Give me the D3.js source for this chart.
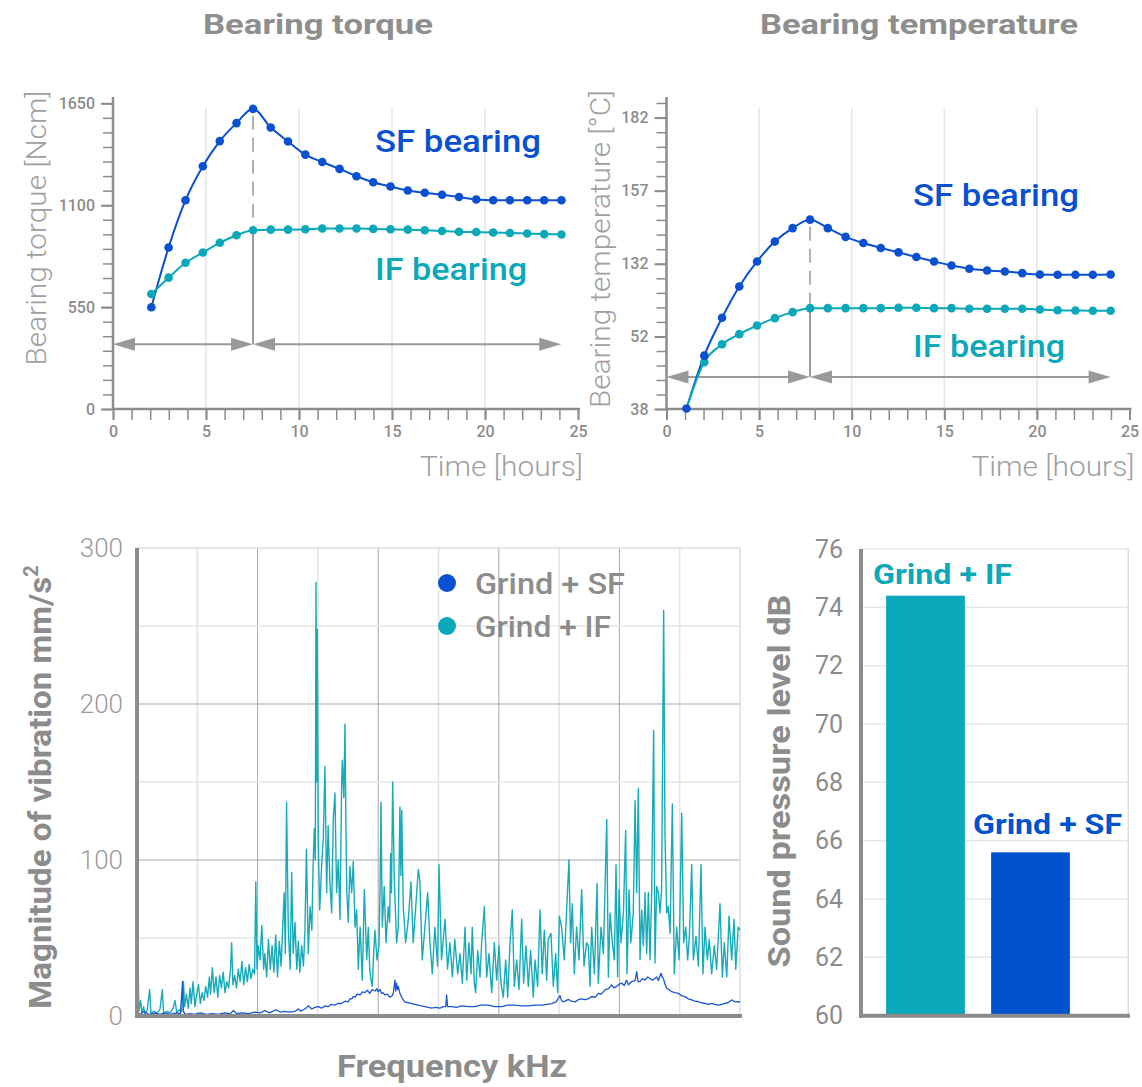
<!DOCTYPE html>
<html><head><meta charset="utf-8">
<script src="https://cdn.jsdelivr.net/npm/d3@7"></script>
<style>body{margin:0;background:#fff}svg{display:block}</style>
</head><body><svg id="c" width="1142" height="1087"></svg>
<script>
// ---------------- DATA ----------------
const torqueTime = [2.06,2.99,3.90,4.83,5.74,6.64,7.53,8.48,9.41,10.34,11.25,12.18,13.09,13.99,14.92,15.85,16.76,17.69,18.60,19.53,20.44,21.34,22.27,23.18,24.11];
const torqueSF = [549,872,1127,1310,1446,1543,1620,1519,1444,1373,1333,1296,1256,1224,1201,1179,1167,1156,1144,1131,1127,1127,1127,1127,1127];
const torqueIF = [621,709,789,845,897,938,965,968,968,970,974,974,974,972,970,968,965,961,957,955,953,950,947,944,942];
const torqueTicks = [0,550,1100,1650];
const timeTicks = [0,5,10,15,20,25];

const tempTime = [1.08,2.04,3.00,3.93,4.89,5.85,6.81,7.75,8.71,9.67,10.63,11.57,12.53,13.49,14.45,15.39,16.35,17.31,18.27,19.21,20.16,21.12,22.08,23.02,23.98];
const tempSF = [38.1,48.3,72.6,107,132.8,139.6,144.2,147.1,144.2,141.2,139.1,137.4,135.9,134.3,132.8,130.2,126.5,124.7,123.6,121.7,120.3,120,120,120,120.2];
const tempIF = [38.1,47.05,50.5,54.6,64.1,72.2,78.8,83.2,83.2,83.2,83.2,83.2,83.6,83.6,83.2,83.2,82.5,82.5,82.5,82.5,81.7,80.9,80.6,80.3,80.3];
const tempTicks = [38,52,132,157,182];

const vibFreqIF = [0.00,0.01,0.03,0.06,0.08,0.11,0.13,0.17,0.21,0.23,0.28,0.33,0.38,0.42,0.44,0.50,0.55,0.60,0.63,0.66,0.70,0.74,0.77,0.79,0.82,0.85,0.88,0.90,0.93,0.96,0.99,1.02,1.05,1.08,1.11,1.14,1.17,1.20,1.22,1.25,1.28,1.31,1.34,1.37,1.40,1.43,1.46,1.49,1.52,1.55,1.57,1.59,1.62,1.65,1.68,1.71,1.74,1.77,1.80,1.83,1.86,1.89,1.92,1.95,1.97,1.99,2.01,2.04,2.07,2.10,2.12,2.15,2.18,2.21,2.24,2.27,2.30,2.33,2.36,2.39,2.42,2.44,2.46,2.48,2.51,2.54,2.565,2.59,2.62,2.65,2.675,2.70,2.73,2.76,2.785,2.81,2.84,2.87,2.90,2.92,2.94,2.957,2.968,2.98,2.99,3.007,3.03,3.06,3.09,3.117,3.145,3.17,3.20,3.228,3.255,3.283,3.31,3.338,3.366,3.394,3.405,3.43,3.438,3.449,3.465,3.48,3.504,3.53,3.56,3.587,3.615,3.643,3.67,3.70,3.736,3.77,3.81,3.836,3.86,3.88,3.902,3.924,3.946,3.98,4.013,4.03,4.046,4.068,4.10,4.13,4.167,4.19,4.206,4.22,4.24,4.267,4.306,4.333,4.36,4.377,4.39,4.416,4.455,4.50,4.543,4.58,4.626,4.665,4.69,4.73,4.775,4.82,4.858,4.897,4.94,4.985,5.008,5.05,5.108,5.15,5.19,5.23,5.27,5.318,5.357,5.395,5.44,5.467,5.506,5.54,5.56,5.594,5.616,5.65,5.688,5.716,5.76,5.799,5.837,5.882,5.926,5.965,6.003,6.036,6.075,6.114,6.147,6.186,6.224,6.257,6.296,6.335,6.379,6.412,6.45,6.49,6.528,6.572,6.60,6.644,6.683,6.72,6.755,6.794,6.82,6.865,6.904,6.943,6.976,7.004,7.042,7.086,7.125,7.164,7.19,7.219,7.252,7.29,7.33,7.374,7.413,7.457,7.485,7.513,7.54,7.585,7.63,7.65,7.695,7.734,7.79,7.817,7.845,7.883,7.916,7.944,7.97,7.994,8.027,8.066,8.104,8.126,8.16,8.19,8.23,8.26,8.287,8.314,8.342,8.37,8.397,8.425,8.452,8.48,8.508,8.535,8.568,8.59,8.618,8.646,8.674,8.70,8.734,8.756,8.784,8.81,8.84,8.878,8.91,8.95,8.99,9.033,9.066,9.10,9.132,9.16,9.199,9.226,9.27,9.31,9.353,9.386,9.42,9.458,9.49,9.53,9.574,9.613,9.668,9.707,9.74,9.78,9.818,9.862,9.90,9.93,9.97,10.0];
const vibIF = [5,62,3,10,2,6,1,4,17,2,3,2,4,17,2,3,2,5,10,2,4,3,22,6,14,5,18,8,22,6,14,20,8,15,10,19,12,25,14,31,15,25,12,26,18,28,15,22,18,30,47,20,26,18,30,22,35,20,31,22,33,24,30,27,86,30,45,36,58,30,40,25,49,30,45,28,52,25,48,32,60,79,40,137,55,30,92,40,60,30,48,28,45,32,55,107,40,70,55,95,120,100,278,150,248,110,68,95,115,160,79,122,85,66,126,143,79,100,62,150,164,140,160,187,120,79,60,96,79,99,57,68,30,57,23,81,36,57,30,23,19,40,55,36,45,80,137,57,83,47,70,60,104,79,150,87,47,57,134,90,132,70,47,62,86,47,72,94,87,36,57,79,47,27,57,32,97,36,62,30,47,25,49,27,40,21,57,23,47,27,57,21,15,42,25,47,70,25,40,15,47,23,45,21,12,36,12,47,68,19,36,17,62,21,45,19,42,12,36,19,68,27,55,23,49,53,19,40,15,64,57,36,68,100,47,72,27,57,36,81,32,47,45,19,57,27,85,21,57,40,126,25,66,47,36,97,25,81,47,66,119,27,81,47,66,138,79,146,36,68,45,79,40,79,36,79,183,34,83,79,66,81,260,117,66,70,53,136,27,57,36,130,47,57,36,51,97,36,51,32,97,27,57,36,49,27,45,30,72,25,47,25,64,36,62,30,57,55];

const vibFreqSF = [0.00,0.05,0.12,0.20,0.30,0.38,0.47,0.55,0.65,0.72,0.755,0.77,0.80,0.88,0.95,1.05,1.15,1.25,1.35,1.45,1.55,1.60,1.65,1.75,1.85,1.95,2.05,2.12,2.20,2.30,2.38,2.45,2.52,2.62,2.675,2.72,2.80,2.84,2.90,2.95,3.007,3.06,3.12,3.17,3.22,3.28,3.33,3.39,3.45,3.50,3.53,3.56,3.59,3.615,3.65,3.70,3.74,3.78,3.82,3.86,3.90,3.946,3.98,4.00,4.03,4.057,4.08,4.11,4.15,4.195,4.23,4.25,4.278,4.29,4.306,4.32,4.333,4.36,4.39,4.42,4.44,4.50,4.554,4.61,4.665,4.72,4.775,4.83,4.886,4.95,5.024,5.08,5.12,5.135,5.15,5.218,5.30,5.384,5.50,5.605,5.70,5.826,5.93,6.047,6.15,6.27,6.38,6.49,6.60,6.71,6.80,6.877,6.95,7.015,7.04,7.07,7.12,7.153,7.20,7.264,7.32,7.374,7.43,7.485,7.54,7.60,7.65,7.70,7.76,7.82,7.87,7.91,7.955,8.00,8.04,8.08,8.12,8.15,8.20,8.26,8.287,8.31,8.34,8.38,8.425,8.47,8.508,8.55,8.59,8.62,8.646,8.69,8.71,8.73,8.76,8.784,8.82,8.867,8.92,8.98,9.03,9.088,9.14,9.2,9.25,9.31,9.36,9.42,9.48,9.53,9.58,9.64,9.70,9.75,9.80,9.86,9.92,9.97,10.0];
const vibSF = [2,1,3,1,2,1,2,1,2,1.5,22,3,1,1.5,1,2,1,1.5,1,2,1.5,3.5,1.5,2,1.5,2.5,2,3.5,2,4,2.5,3,2.5,3,4.5,3,5,6.5,4.5,5.5,6,5,6.5,6,7.5,7,8,8,9.5,9,11,11,12.5,12,14,13.5,15.5,15,16.5,14.5,17,16,17.5,15.5,17,14.5,15,13.5,14,12,13,14.5,23,16,21,17,19,14.5,12,10,9,8.5,8,7.5,7,6.5,6,5.5,5,5.5,5,6,6,13.5,6,6,5.5,6.5,6,6,7,7,6,6,7,7,6.5,6.5,7,7,7.5,8,9,13,10,9,10,10.7,9.5,9,10.5,11,10.5,11,12.5,12,14.5,14,16.7,17.5,20,18,19,20.5,21,19.5,23,20,22,22.7,28.5,22,22,24,23,25,24,23,24,25,22.7,27.4,25,24,20,17.8,17,15.6,15,14.5,13,12.4,11,10.3,9.5,9.2,8.5,8.1,7.5,8.1,7.5,7,7.5,8.1,8.5,10.3,9,9.2,9];
const vibTicks = [0,100,200,300];

const barCats = ["Grind + IF","Grind + SF"];
const barVals = [74.4,65.6];
const barTicks = [60,62,64,66,68,70,72,74,76];

// ---------------- STYLE ----------------
const FONT = "Roboto, 'Liberation Sans', Arial, sans-serif";
const AX = "#8c8c8c";
const SFC = "#0a50d0", IFC = "#0aa8b8";
const svg = d3.select("#c").style("font-family", FONT);
svg.append("rect").attr("width",1142).attr("height",1087).attr("fill","#fff");

function txt(g, s, x, y, opt){
  const t = g.append("text").attr("x",x).attr("y",y).text(s)
    .attr("font-size",opt.size).attr("font-weight",opt.weight||400)
    .attr("fill",opt.fill||AX).attr("text-anchor",opt.anchor||"start");
  if(opt.len) t.attr("textLength",opt.len).attr("lengthAdjust","spacingAndGlyphs");
  if(opt.rot) t.attr("transform",`rotate(-90,${x},${y})`);
  return t;
}
function arrowHead(g, x, y, dir){ // dir: -1 points left, +1 right
  const L=22, H=6.5;
  g.append("path").attr("d",`M${x},${y}L${x-dir*L},${y-H}L${x-dir*L},${y+H}Z`).attr("fill","#999");
}

// ---------------- LINE CHARTS ----------------
function lineChart(cfg){
  const g = svg.append("g");
  const x = d3.scaleLinear().domain([0,25]).range([cfg.x0, cfg.x1]);
  const y = cfg.y;
  const yBot = y.range()[0];
  g.selectAll(".vg").data([5,10,15,20]).join("line")
    .attr("x1",d=>x(d)).attr("x2",d=>x(d)).attr("y1",108).attr("y2",yBot)
    .attr("stroke","#e4e4e4").attr("stroke-width",1.5);
  g.append("g").attr("transform",`translate(${cfg.x0},0)`)
    .call(d3.axisLeft(y).tickValues(cfg.yMinor).tickSize(10).tickFormat(""))
    .call(a=>a.select(".domain").remove())
    .call(a=>a.selectAll("line").attr("stroke",AX).attr("stroke-width",1.5));
  g.append("g").attr("transform",`translate(${cfg.x0},0)`)
    .call(d3.axisLeft(y).tickValues(cfg.yTicks).tickSize(12).tickPadding(6).tickFormat(d3.format("d")))
    .call(a=>a.select(".domain").remove())
    .call(a=>a.selectAll("line").attr("stroke",AX).attr("stroke-width",2))
    .call(a=>a.selectAll("text").attr("font-size",16).attr("font-weight",500).attr("fill",AX).attr("font-family",FONT));
  g.append("g").attr("transform",`translate(0,${yBot})`)
    .call(d3.axisBottom(x).tickValues(d3.range(0,26)).tickSize(11).tickFormat(""))
    .call(a=>a.select(".domain").remove())
    .call(a=>a.selectAll("line").attr("stroke",AX).attr("stroke-width",1.5));
  g.append("g").attr("transform",`translate(0,${yBot})`)
    .call(d3.axisBottom(x).tickValues(timeTicks).tickSize(11).tickPadding(6))
    .call(a=>a.select(".domain").remove())
    .call(a=>a.selectAll("line").attr("stroke",AX).attr("stroke-width",2))
    .call(a=>a.selectAll("text").attr("font-size",16).attr("font-weight",500).attr("fill",AX).attr("font-family",FONT));
  g.append("line").attr("x1",cfg.x0).attr("x2",cfg.x0).attr("y1",97).attr("y2",yBot).attr("stroke",AX).attr("stroke-width",2.5);
  g.append("line").attr("x1",cfg.x0).attr("x2",cfg.x1+2).attr("y1",yBot).attr("y2",yBot).attr("stroke",AX).attr("stroke-width",2.5);

  const pk = cfg.peak;
  const px = x(cfg.t[pk]);
  const ay = y(cfg.arrowY);
  g.append("line").attr("x1",px).attr("x2",px).attr("y1",y(cfg.sf[pk])+7).attr("y2",y(cfg.ifv[pk]))
    .attr("stroke","#999").attr("stroke-width",1.5).attr("stroke-dasharray","14,8");
  g.append("line").attr("x1",px).attr("x2",px).attr("y1",y(cfg.ifv[pk])).attr("y2",ay)
    .attr("stroke","#999").attr("stroke-width",2);
  g.append("line").attr("x1",x(0)+10).attr("x2",px-10).attr("y1",ay).attr("y2",ay).attr("stroke","#999").attr("stroke-width",2);
  g.append("line").attr("x1",px+10).attr("x2",x(cfg.arrowEnd)-10).attr("y1",ay).attr("y2",ay).attr("stroke","#999").attr("stroke-width",2);
  arrowHead(g, x(0), ay, -1);
  arrowHead(g, px, ay, 1);
  arrowHead(g, px, ay, -1);
  arrowHead(g, x(cfg.arrowEnd), ay, 1);

  const line = d3.line().x(d=>x(d[0])).y(d=>y(d[1])).curve(d3.curveMonotoneX);
  const sfD = cfg.t.map((t,i)=>[t,cfg.sf[i]]);
  const ifD = cfg.t.map((t,i)=>[t,cfg.ifv[i]]).filter(d=>d[1]!=null);
  g.append("path").attr("d",line(sfD)).attr("fill","none").attr("stroke",SFC).attr("stroke-width",2);
  g.append("path").attr("d",line(ifD)).attr("fill","none").attr("stroke",IFC).attr("stroke-width",2);
  g.selectAll(".ifd").data(ifD.slice(cfg.ifDotStart)).join("circle").attr("cx",d=>x(d[0])).attr("cy",d=>y(d[1])).attr("r",4.3).attr("fill",IFC);
  g.selectAll(".sfd").data(sfD).join("circle").attr("cx",d=>x(d[0])).attr("cy",d=>y(d[1])).attr("r",4.3).attr("fill",SFC);

  txt(g, cfg.title, cfg.titleX, 34, {size:28, weight:700, anchor:"middle", len:cfg.titleLen, fill:"#8e8e8e"});
  txt(g, cfg.ylabel, cfg.ylabX, cfg.ylabY, {size:27, weight:300, anchor:"middle", len:cfg.ylabLen, rot:true, fill:"#a0a0a0"});
  txt(g, "Time [hours]", cfg.x1+5, 476, {size:28, weight:300, anchor:"end", len:163, fill:"#a0a0a0"});
  txt(g, "SF bearing", cfg.sfLab[0], cfg.sfLab[1], {size:32, weight:500, fill:SFC, len:166});
  txt(g, "IF bearing", cfg.ifLab[0], cfg.ifLab[1], {size:32, weight:500, fill:IFC, len:152});
}

const torqueY = d3.scaleLinear().domain([0,1650]).range([409,103.3]);
lineChart({
  x0:113, x1:578, y:torqueY, yTicks:torqueTicks,
  yMinor: d3.range(0,22).map(i=>i*550/7),
  t:torqueTime, sf:torqueSF, ifv:torqueIF, peak:6, arrowY:350, arrowEnd:24.1, ifDotStart:0,
  title:"Bearing torque", titleX:318, titleLen:230,
  ylabel:"Bearing torque [Ncm]", ylabX:46, ylabY:228, ylabLen:275,
  sfLab:[375,152], ifLab:[375,280]
});

const tempY = d3.scaleLinear().domain(tempTicks).range([409,336.5,263.8,190.7,117.6]);
lineChart({
  x0:666.5, x1:1129.5, y:tempY, yTicks:tempTicks,
  yMinor: tempTicks.slice(0,-1).flatMap((v,i)=>d3.range(0,5).map(k=>v+(tempTicks[i+1]-v)*k/5)).concat([182,187]),
  t:tempTime, sf:tempSF, ifv:tempIF, peak:7, arrowY:44.2, arrowEnd:23.98, ifDotStart:1,
  title:"Bearing temperature", titleX:919, titleLen:318,
  ylabel:"Bearing temperature [°C]", ylabX:610, ylabY:249, ylabLen:318,
  sfLab:[913,206], ifLab:[913,357]
});

// ---------------- VIBRATION SPECTRUM ----------------
(function(){
  const g = svg.append("g");
  const x = d3.scaleLinear().domain([0,10]).range([137,740]);
  const y = d3.scaleLinear().domain([0,300]).range([1016,548]);
  g.selectAll(".vmin").data([1,3,5,7,9]).join("line").attr("x1",d=>x(d)).attr("x2",d=>x(d)).attr("y1",y(300)).attr("y2",y(0)).attr("stroke","#e2e2e2").attr("stroke-width",1.5);
  g.selectAll(".vmaj").data([2,4,6,8]).join("line").attr("x1",d=>x(d)).attr("x2",d=>x(d)).attr("y1",y(300)).attr("y2",y(0)).attr("stroke","#a6a6a6").attr("stroke-width",1);
  g.selectAll(".hmin").data([50,150,250]).join("line").attr("x1",x(0)).attr("x2",x(10)).attr("y1",d=>y(d)).attr("y2",d=>y(d)).attr("stroke","#e6e6e6").attr("stroke-width",1.5);
  g.selectAll(".hmaj").data([100,200]).join("line").attr("x1",x(0)).attr("x2",x(10)).attr("y1",d=>y(d)).attr("y2",d=>y(d)).attr("stroke","#a6a6a6").attr("stroke-width",1);
  g.append("line").attr("x1",x(0)).attr("x2",x(10)).attr("y1",y(300)).attr("y2",y(300)).attr("stroke","#dcdcdc").attr("stroke-width",1.5);
  g.append("line").attr("x1",x(10)).attr("x2",x(10)).attr("y1",y(300)).attr("y2",y(0)).attr("stroke","#dcdcdc").attr("stroke-width",1.5);
  g.append("g").attr("transform",`translate(${x(0)},0)`)
    .call(d3.axisLeft(y).tickValues(vibTicks).tickSize(0).tickPadding(14))
    .call(a=>a.select(".domain").remove())
    .call(a=>a.selectAll("text").attr("font-size",26).attr("font-weight",300).attr("fill","#9a9a9a").attr("font-family",FONT));
  const line = d3.line().x(d=>x(d[0])).y(d=>y(d[1]));
  g.append("path").attr("d",line(vibFreqIF.map((f,i)=>[f,vibIF[i]]))).attr("fill","none").attr("stroke","#17abb9").attr("stroke-width",1.4).attr("stroke-linejoin","round");
  g.append("path").attr("d",line(vibFreqSF.map((f,i)=>[f,vibSF[i]]))).attr("fill","none").attr("stroke","#1a55d4").attr("stroke-width",1.3).attr("stroke-linejoin","round");
  g.append("line").attr("x1",x(0)).attr("x2",x(0)).attr("y1",y(300)).attr("y2",y(0)+2).attr("stroke",AX).attr("stroke-width",4);
  g.append("line").attr("x1",x(0)-2).attr("x2",x(10)+2).attr("y1",y(0)).attr("y2",y(0)).attr("stroke",AX).attr("stroke-width",4);
  const lg = [["Grind + SF",SFC,583,150],["Grind + IF",IFC,626,136]];
  lg.forEach(([s,c,yy,len])=>{
    g.append("circle").attr("cx",447).attr("cy",yy).attr("r",9).attr("fill",c);
    txt(g, s, 475, yy+11, {size:30, weight:500, fill:"#8c8c8c", len:len});
  });
  txt(g, "Frequency kHz", 452, 1077, {size:31, weight:700, anchor:"middle", len:230, fill:"#8c8c8c"});
  const yt = g.append("text").attr("transform","translate(51,787) rotate(-90)")
    .attr("text-anchor","middle").attr("font-size",31).attr("font-weight",700).attr("fill","#8c8c8c");
  yt.append("tspan").text("Magnitude of vibration mm/s").attr("textLength",432).attr("lengthAdjust","spacingAndGlyphs");
  yt.append("tspan").text("2").attr("font-size",20).attr("dy",-13);
})();

// ---------------- BAR CHART ----------------
(function(){
  const g = svg.append("g");
  const y = d3.scaleLinear().domain([60,76]).range([1015.7,549]);
  const x = d3.scaleBand().domain(barCats).range([873,1083]).paddingInner(0.25).paddingOuter(0.125);
  g.selectAll(".hg").data(barTicks.slice(1)).join("line").attr("x1",861).attr("x2",1128.3).attr("y1",d=>y(d)).attr("y2",d=>y(d)).attr("stroke","#e6e6e6").attr("stroke-width",1.5);
  g.append("line").attr("x1",1128.3).attr("x2",1128.3).attr("y1",y(76)).attr("y2",y(60)).attr("stroke","#dcdcdc").attr("stroke-width",1.5);
  g.append("g").attr("transform","translate(861,0)")
    .call(d3.axisLeft(y).tickValues(barTicks).tickSize(0).tickPadding(18))
    .call(a=>a.select(".domain").remove())
    .call(a=>a.selectAll("text").attr("font-size",25).attr("font-weight",400).attr("fill","#8c8c8c").attr("font-family",FONT));
  const cols = [ "#0aa8b8", "#0052cf" ];
  g.selectAll(".bar").data(barVals).join("rect")
    .attr("x",(d,i)=>x(barCats[i])).attr("width",x.bandwidth())
    .attr("y",d=>y(d)).attr("height",d=>y(60)-y(d)).attr("fill",(d,i)=>cols[i]);
  const labOff = [[12,139],[18,149]];
  barVals.forEach((v,i)=>{
    txt(g, barCats[i], x(barCats[i])+x.bandwidth()/2+17, y(v)-labOff[i][0], {size:28, weight:700, anchor:"middle", fill:cols[i], len:labOff[i][1]});
  });
  g.append("line").attr("x1",861).attr("x2",861).attr("y1",y(76)).attr("y2",y(60)+2).attr("stroke",AX).attr("stroke-width",4);
  g.append("line").attr("x1",859).attr("x2",1130).attr("y1",y(60)).attr("y2",y(60)).attr("stroke",AX).attr("stroke-width",4);
  txt(g, "Sound pressure level dB", 790, 781, {size:31, weight:700, anchor:"middle", rot:true, len:373, fill:"#8c8c8c"});
})();
</script></body></html>
